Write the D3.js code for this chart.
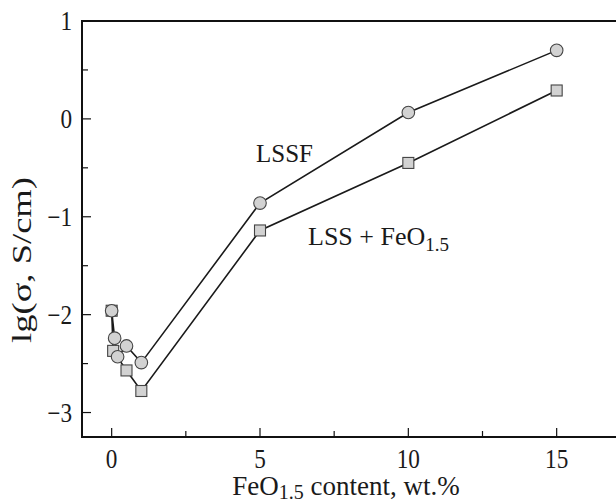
<!DOCTYPE html>
<html>
<head>
<meta charset="utf-8">
<script src="https://cdn.jsdelivr.net/npm/d3@7/dist/d3.min.js"></script>
<style>
  html, body { margin: 0; padding: 0; background: #fff; }
  svg { display: block; }
</style>
</head>
<body>
<div id="chart"></div>
<script>
// FeO1.5 content, wt.%
const lssfX = [0, 0.1, 0.2, 0.5, 1, 5, 10, 15];
// lg(sigma) for LSSF (circles)
const lssfY = [-1.96, -2.24, -2.43, -2.32, -2.49, -0.86, 0.065, 0.70];

const mixX = [0, 0.05, 0.5, 1, 5, 10, 15];
// lg(sigma) for LSS + FeO1.5 (squares)
const mixY = [-1.96, -2.37, -2.57, -2.78, -1.14, -0.45, 0.29];

const xMajorTicks = [0, 5, 10, 15];
const xMinorTicks = [2.5, 7.5, 12.5];
const yMajorTicks = [-3, -2, -1, 0, 1];
const yMinorTicks = [-2.5, -1.5, -0.5, 0.5];

const width = 616;
const height = 503;

// plot frame in pixels (window.top exists, so avoid that name)
const plotLeft = 82;
const plotRight = 616;
const plotTop = 21;
const plotBottom = 437;

const serif = "'Liberation Serif', 'DejaVu Serif', 'Times New Roman', serif";

const x = d3.scaleLinear().domain([-1, 17]).range([plotLeft, plotRight]);
const y = d3.scaleLinear().domain([-3.25, 1]).range([plotBottom, plotTop]);

const svg = d3.select('#chart')
  .append('svg')
  .attr('width', width)
  .attr('height', height)
  .style('font-family', serif)
  .attr('fill', '#1a1a1a');

const zip = (xs, ys) => xs.map((v, i) => ({ x: v, y: ys[i] }));
const lssf = zip(lssfX, lssfY);
const mix = zip(mixX, mixY);

const fmt = (d) => d3.format('d')(d);

// the source figure is a little narrow, so tick labels get squeezed sideways
const squeeze = 0.86;

// frame: left axis, bottom axis and top line
svg.append('path')
  .attr('d', `M${plotRight},${plotTop}H${plotLeft}V${plotBottom}H${plotRight}`)
  .attr('fill', 'none')
  .attr('stroke', '#111')
  .attr('stroke-width', 2);

// x ticks point inward
svg.append('g').selectAll('line')
  .data(xMajorTicks.map(v => ({ v, len: 9 })).concat(xMinorTicks.map(v => ({ v, len: 6 }))))
  .join('line')
  .attr('x1', d => x(d.v))
  .attr('x2', d => x(d.v))
  .attr('y1', plotBottom)
  .attr('y2', d => plotBottom - d.len)
  .attr('stroke', '#111')
  .attr('stroke-width', 1.2);

svg.append('g').selectAll('text')
  .data(xMajorTicks)
  .join('text')
  .attr('transform', d => `translate(${x(d)},468) scale(${squeeze},1)`)
  .attr('text-anchor', 'middle')
  .attr('font-size', 27)
  .text(fmt);

// y ticks
svg.append('g').selectAll('line')
  .data(yMajorTicks.map(v => ({ v, len: 9 })).concat(yMinorTicks.map(v => ({ v, len: 6 }))))
  .join('line')
  .attr('x1', plotLeft)
  .attr('x2', d => plotLeft + d.len)
  .attr('y1', d => y(d.v))
  .attr('y2', d => y(d.v))
  .attr('stroke', '#111')
  .attr('stroke-width', 1.2);

svg.append('g').selectAll('text')
  .data(yMajorTicks)
  .join('text')
  .attr('transform', d => `translate(72,${y(d) + 9}) scale(${squeeze},1)`)
  .attr('text-anchor', 'end')
  .attr('font-size', 27)
  .text(fmt);

// axis titles
const xTitle = svg.append('text')
  .attr('x', 346)
  .attr('y', 495)
  .attr('text-anchor', 'middle')
  .attr('font-size', 27);
xTitle.append('tspan').text('FeO');
xTitle.append('tspan').attr('font-size', 20).attr('dy', 4).text('1.5');
xTitle.append('tspan').attr('dy', -4).text(' content, wt.%');

svg.append('text')
  .attr('transform', 'translate(31,260) rotate(-90)')
  .attr('text-anchor', 'middle')
  .attr('font-size', 27)
  .attr('textLength', 166)
  .attr('lengthAdjust', 'spacingAndGlyphs')
  .text('lg(σ, S/cm)');

// series lines
const line = d3.line().x(d => x(d.x)).y(d => y(d.y));

svg.append('path')
  .datum(mix)
  .attr('d', line)
  .attr('fill', 'none')
  .attr('stroke', '#1a1a1a')
  .attr('stroke-width', 1.6);

svg.append('path')
  .datum(lssf)
  .attr('d', line)
  .attr('fill', 'none')
  .attr('stroke', '#1a1a1a')
  .attr('stroke-width', 1.6);

// squares under circles
const side = 11;
svg.append('g').selectAll('rect')
  .data(mix)
  .join('rect')
  .attr('x', d => x(d.x) - side / 2)
  .attr('y', d => y(d.y) - side / 2)
  .attr('width', side)
  .attr('height', side)
  .attr('fill', '#d2d2d2')
  .attr('stroke', '#444')
  .attr('stroke-width', 1.1);

svg.append('g').selectAll('circle')
  .data(lssf)
  .join('circle')
  .attr('cx', d => x(d.x))
  .attr('cy', d => y(d.y))
  .attr('r', 6.3)
  .attr('fill', '#d2d2d2')
  .attr('stroke', '#444')
  .attr('stroke-width', 1.1);

// series labels
svg.append('text')
  .attr('x', 256)
  .attr('y', 162)
  .attr('font-size', 25)
  .text('LSSF');

const mixLabel = svg.append('text')
  .attr('x', 308)
  .attr('y', 245)
  .attr('font-size', 26);
mixLabel.append('tspan').text('LSS + FeO');
mixLabel.append('tspan').attr('font-size', 19).attr('dy', 6).text('1.5');
</script>
</body>
</html>
